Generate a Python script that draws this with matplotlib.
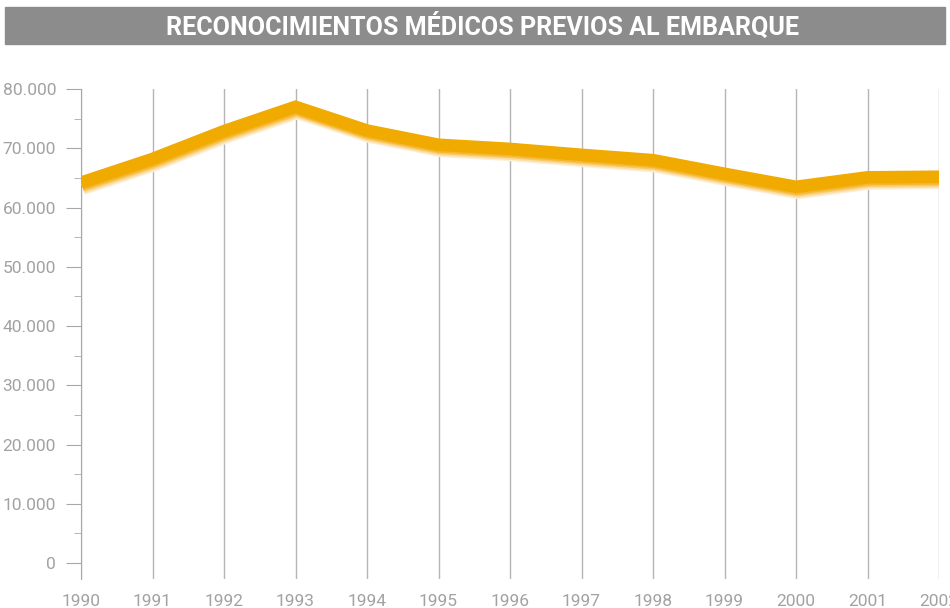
import numpy as np
import matplotlib
matplotlib.use("Agg")
import matplotlib.pyplot as plt
import matplotlib.patheffects as pe
from matplotlib.ticker import MultipleLocator, FuncFormatter

# datos
years = list(range(1990, 2003))
reconocimientos = [64200, 68200, 72900, 77000, 73000, 70600, 69900,
                   68900, 68000, 65700, 63500, 65100, 65200]
title = "RECONOCIMIENTOS MÉDICOS PREVIOS AL EMBARQUE"

grey_txt = "#A2A2A2"
orange = "#F0AA00"

fig = plt.figure(figsize=(9.5, 6.08), dpi=100)

# title band
fig.patches.append(plt.Rectangle((5/950, 1 - 44/608), 940/950, 37/608,
                                 transform=fig.transFigure, color="#8C8C8C", zorder=0))
fig.text(482/950, 1 - 26/608, title, color="white", ha="center", va="center",
         fontsize=18.1, fontweight="bold",
         family=["Roboto", "DejaVu Sans"])

ax = fig.add_axes([81/950, 29/608, 858/950, 490/608])
ax.set_xlim(1990, 2002)
ax.set_ylim(-2700, 80000)

ax.plot(years, reconocimientos, color=orange, lw=9, solid_joinstyle="miter",
        solid_capstyle="butt", zorder=3,
        path_effects=[
            pe.SimpleLineShadow(offset=(1.5, -4.5), shadow_color="#FDEFD6", alpha=1),
            pe.SimpleLineShadow(offset=(1.2, -3.5), shadow_color="#FBDDA6", alpha=1),
            pe.SimpleLineShadow(offset=(0.8, -2.3), shadow_color="#F7C867", alpha=1),
            pe.SimpleLineShadow(offset=(0.4, -1.2), shadow_color="#F3B730", alpha=1),
            pe.Normal()])

for y in years:
    ax.axvline(y, color="#B5B5B5", lw=1, zorder=1)

for s in ["top", "right", "bottom"]:
    ax.spines[s].set_visible(False)
ax.spines["left"].set_color("#A8A8A8")

ax.yaxis.set_major_locator(MultipleLocator(10000))
ax.yaxis.set_minor_locator(MultipleLocator(5000))
ax.yaxis.set_major_formatter(FuncFormatter(lambda v, p: f"{int(v):,}".replace(",", ".")))
ax.tick_params(axis="y", which="major", length=11, color="#A8A8A8", pad=7,
               labelsize=12.5, labelcolor=grey_txt)
ax.tick_params(axis="y", which="minor", length=5, color="#A8A8A8")
ax.set_xticks(years)
ax.tick_params(axis="x", length=0, pad=11, labelsize=12.5, labelcolor=grey_txt)
for lab in ax.get_xticklabels() + ax.get_yticklabels():
    lab.set_family(["Roboto", "DejaVu Sans"])

fig.savefig("out.png", dpi=100)
